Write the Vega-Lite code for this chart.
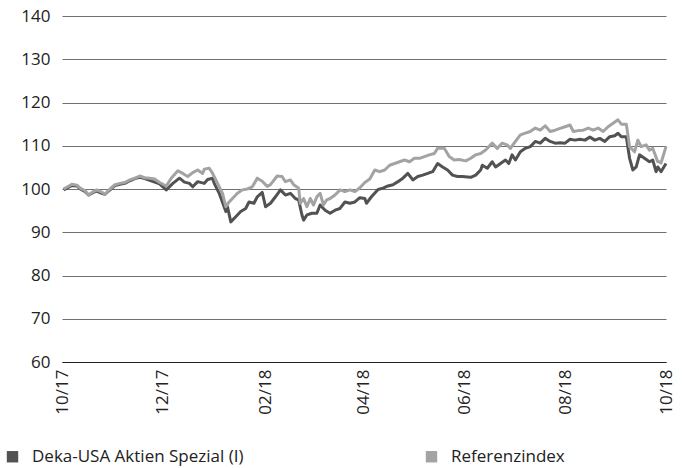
{
  "$schema": "https://vega.github.io/schema/vega-lite/v6.json",
  "width": 604,
  "height": 346,
  "autosize": {"type": "none"},
  "padding": {"left": 62, "top": 16, "right": 18, "bottom": 106},
  "background": "white",
  "config": {
    "view": {"stroke": null},
    "font": "Open Sans"
  },
  "datasets": {
    "fund": [
      {"date": "2017-10-02", "value": 99.8},
      {"date": "2017-10-07", "value": 100.8},
      {"date": "2017-10-10", "value": 100.7},
      {"date": "2017-10-12", "value": 100.0},
      {"date": "2017-10-15", "value": 99.4},
      {"date": "2017-10-17", "value": 98.6},
      {"date": "2017-10-20", "value": 99.2},
      {"date": "2017-10-22", "value": 99.5},
      {"date": "2017-10-25", "value": 99.0},
      {"date": "2017-10-27", "value": 98.8},
      {"date": "2017-10-30", "value": 99.8},
      {"date": "2017-11-02", "value": 100.8},
      {"date": "2017-11-05", "value": 101.1},
      {"date": "2017-11-08", "value": 101.3},
      {"date": "2017-11-11", "value": 101.9},
      {"date": "2017-11-14", "value": 102.4},
      {"date": "2017-11-17", "value": 102.7},
      {"date": "2017-11-20", "value": 102.4},
      {"date": "2017-11-23", "value": 102.0},
      {"date": "2017-11-26", "value": 101.6},
      {"date": "2017-11-29", "value": 101.2},
      {"date": "2017-12-03", "value": 99.8},
      {"date": "2017-12-07", "value": 101.3},
      {"date": "2017-12-11", "value": 102.5},
      {"date": "2017-12-14", "value": 101.6},
      {"date": "2017-12-17", "value": 101.3},
      {"date": "2017-12-19", "value": 100.5},
      {"date": "2017-12-22", "value": 101.7},
      {"date": "2017-12-26", "value": 101.3},
      {"date": "2017-12-28", "value": 102.2},
      {"date": "2017-12-31", "value": 102.5},
      {"date": "2018-01-01", "value": 101.3},
      {"date": "2018-01-04", "value": 99.0},
      {"date": "2018-01-08", "value": 94.8},
      {"date": "2018-01-09", "value": 95.9},
      {"date": "2018-01-11", "value": 92.4},
      {"date": "2018-01-14", "value": 93.6},
      {"date": "2018-01-17", "value": 94.8},
      {"date": "2018-01-20", "value": 95.5},
      {"date": "2018-01-22", "value": 97.0},
      {"date": "2018-01-25", "value": 96.7},
      {"date": "2018-01-27", "value": 98.2},
      {"date": "2018-01-30", "value": 99.2},
      {"date": "2018-02-01", "value": 95.9},
      {"date": "2018-02-04", "value": 96.7},
      {"date": "2018-02-07", "value": 98.2},
      {"date": "2018-02-10", "value": 99.8},
      {"date": "2018-02-13", "value": 98.6},
      {"date": "2018-02-16", "value": 99.0},
      {"date": "2018-02-19", "value": 97.8},
      {"date": "2018-02-21", "value": 97.5},
      {"date": "2018-02-23", "value": 94.0},
      {"date": "2018-02-24", "value": 92.8},
      {"date": "2018-02-26", "value": 94.0},
      {"date": "2018-03-01", "value": 94.4},
      {"date": "2018-03-04", "value": 94.4},
      {"date": "2018-03-06", "value": 96.3},
      {"date": "2018-03-09", "value": 95.1},
      {"date": "2018-03-12", "value": 94.4},
      {"date": "2018-03-15", "value": 95.1},
      {"date": "2018-03-18", "value": 95.5},
      {"date": "2018-03-21", "value": 97.0},
      {"date": "2018-03-24", "value": 96.7},
      {"date": "2018-03-27", "value": 97.0},
      {"date": "2018-03-30", "value": 98.0},
      {"date": "2018-04-02", "value": 97.8},
      {"date": "2018-04-03", "value": 96.7},
      {"date": "2018-04-06", "value": 98.2},
      {"date": "2018-04-10", "value": 99.9},
      {"date": "2018-04-13", "value": 100.2},
      {"date": "2018-04-16", "value": 100.7},
      {"date": "2018-04-19", "value": 101.0},
      {"date": "2018-04-22", "value": 101.7},
      {"date": "2018-04-25", "value": 102.5},
      {"date": "2018-04-28", "value": 103.6},
      {"date": "2018-05-01", "value": 102.1},
      {"date": "2018-05-04", "value": 102.9},
      {"date": "2018-05-07", "value": 103.2},
      {"date": "2018-05-10", "value": 103.6},
      {"date": "2018-05-13", "value": 104.0},
      {"date": "2018-05-16", "value": 105.9},
      {"date": "2018-05-19", "value": 105.1},
      {"date": "2018-05-22", "value": 104.4},
      {"date": "2018-05-25", "value": 103.2},
      {"date": "2018-05-28", "value": 102.9},
      {"date": "2018-05-31", "value": 102.9},
      {"date": "2018-06-03", "value": 102.8},
      {"date": "2018-06-05", "value": 102.7},
      {"date": "2018-06-08", "value": 103.2},
      {"date": "2018-06-11", "value": 104.4},
      {"date": "2018-06-12", "value": 105.5},
      {"date": "2018-06-15", "value": 104.8},
      {"date": "2018-06-18", "value": 106.3},
      {"date": "2018-06-20", "value": 105.1},
      {"date": "2018-06-23", "value": 105.9},
      {"date": "2018-06-26", "value": 106.7},
      {"date": "2018-06-28", "value": 105.9},
      {"date": "2018-06-30", "value": 107.9},
      {"date": "2018-07-02", "value": 106.7},
      {"date": "2018-07-05", "value": 108.6},
      {"date": "2018-07-08", "value": 109.4},
      {"date": "2018-07-11", "value": 109.8},
      {"date": "2018-07-14", "value": 111.0},
      {"date": "2018-07-17", "value": 110.6},
      {"date": "2018-07-20", "value": 111.7},
      {"date": "2018-07-23", "value": 111.0},
      {"date": "2018-07-26", "value": 110.6},
      {"date": "2018-07-29", "value": 110.7},
      {"date": "2018-08-01", "value": 110.6},
      {"date": "2018-08-04", "value": 111.5},
      {"date": "2018-08-07", "value": 111.3},
      {"date": "2018-08-10", "value": 111.5},
      {"date": "2018-08-13", "value": 111.3},
      {"date": "2018-08-16", "value": 112.0},
      {"date": "2018-08-19", "value": 111.3},
      {"date": "2018-08-22", "value": 111.7},
      {"date": "2018-08-25", "value": 111.0},
      {"date": "2018-08-28", "value": 112.1},
      {"date": "2018-08-31", "value": 112.3},
      {"date": "2018-09-02", "value": 112.9},
      {"date": "2018-09-04", "value": 112.1},
      {"date": "2018-09-07", "value": 112.1},
      {"date": "2018-09-09", "value": 107.1},
      {"date": "2018-09-11", "value": 104.4},
      {"date": "2018-09-13", "value": 105.1},
      {"date": "2018-09-15", "value": 107.9},
      {"date": "2018-09-18", "value": 107.1},
      {"date": "2018-09-21", "value": 106.3},
      {"date": "2018-09-23", "value": 106.7},
      {"date": "2018-09-25", "value": 104.0},
      {"date": "2018-09-26", "value": 105.1},
      {"date": "2018-09-28", "value": 104.0},
      {"date": "2018-10-01", "value": 105.9}
    ],
    "index": [
      {"date": "2017-10-02", "value": 100.0},
      {"date": "2017-10-07", "value": 101.1},
      {"date": "2017-10-10", "value": 100.9},
      {"date": "2017-10-12", "value": 100.2},
      {"date": "2017-10-15", "value": 99.6},
      {"date": "2017-10-17", "value": 98.6},
      {"date": "2017-10-20", "value": 99.4},
      {"date": "2017-10-22", "value": 99.8},
      {"date": "2017-10-25", "value": 99.3},
      {"date": "2017-10-27", "value": 98.8},
      {"date": "2017-10-30", "value": 100.0},
      {"date": "2017-11-02", "value": 101.0},
      {"date": "2017-11-05", "value": 101.3},
      {"date": "2017-11-08", "value": 101.5},
      {"date": "2017-11-11", "value": 102.1},
      {"date": "2017-11-14", "value": 102.5},
      {"date": "2017-11-17", "value": 103.0},
      {"date": "2017-11-20", "value": 102.6},
      {"date": "2017-11-23", "value": 102.5},
      {"date": "2017-11-26", "value": 102.3},
      {"date": "2017-11-29", "value": 101.5},
      {"date": "2017-12-03", "value": 100.7},
      {"date": "2017-12-06", "value": 102.5},
      {"date": "2017-12-10", "value": 104.2},
      {"date": "2017-12-13", "value": 103.6},
      {"date": "2017-12-16", "value": 102.9},
      {"date": "2017-12-19", "value": 103.8},
      {"date": "2017-12-22", "value": 104.4},
      {"date": "2017-12-25", "value": 103.6},
      {"date": "2017-12-26", "value": 104.6},
      {"date": "2017-12-29", "value": 104.8},
      {"date": "2017-12-31", "value": 103.6},
      {"date": "2018-01-03", "value": 101.3},
      {"date": "2018-01-06", "value": 99.0},
      {"date": "2018-01-08", "value": 95.9},
      {"date": "2018-01-10", "value": 97.0},
      {"date": "2018-01-12", "value": 97.8},
      {"date": "2018-01-15", "value": 99.0},
      {"date": "2018-01-18", "value": 99.8},
      {"date": "2018-01-21", "value": 100.0},
      {"date": "2018-01-24", "value": 100.5},
      {"date": "2018-01-27", "value": 102.5},
      {"date": "2018-01-30", "value": 101.8},
      {"date": "2018-02-02", "value": 100.6},
      {"date": "2018-02-04", "value": 101.0},
      {"date": "2018-02-08", "value": 103.0},
      {"date": "2018-02-11", "value": 102.9},
      {"date": "2018-02-13", "value": 101.7},
      {"date": "2018-02-16", "value": 102.1},
      {"date": "2018-02-18", "value": 101.0},
      {"date": "2018-02-21", "value": 100.2},
      {"date": "2018-02-22", "value": 96.7},
      {"date": "2018-02-24", "value": 97.8},
      {"date": "2018-02-26", "value": 95.9},
      {"date": "2018-02-28", "value": 97.8},
      {"date": "2018-03-02", "value": 96.3},
      {"date": "2018-03-04", "value": 98.2},
      {"date": "2018-03-06", "value": 99.0},
      {"date": "2018-03-08", "value": 96.3},
      {"date": "2018-03-10", "value": 97.5},
      {"date": "2018-03-12", "value": 97.8},
      {"date": "2018-03-15", "value": 98.6},
      {"date": "2018-03-18", "value": 99.8},
      {"date": "2018-03-21", "value": 99.4},
      {"date": "2018-03-24", "value": 99.8},
      {"date": "2018-03-27", "value": 99.4},
      {"date": "2018-03-30", "value": 100.3},
      {"date": "2018-04-02", "value": 101.5},
      {"date": "2018-04-05", "value": 102.3},
      {"date": "2018-04-08", "value": 104.4},
      {"date": "2018-04-11", "value": 104.0},
      {"date": "2018-04-14", "value": 104.4},
      {"date": "2018-04-17", "value": 105.5},
      {"date": "2018-04-20", "value": 105.9},
      {"date": "2018-04-23", "value": 106.3},
      {"date": "2018-04-26", "value": 106.7},
      {"date": "2018-04-29", "value": 106.3},
      {"date": "2018-05-02", "value": 107.1},
      {"date": "2018-05-05", "value": 107.1},
      {"date": "2018-05-08", "value": 107.5},
      {"date": "2018-05-11", "value": 107.9},
      {"date": "2018-05-14", "value": 108.2},
      {"date": "2018-05-16", "value": 109.4},
      {"date": "2018-05-20", "value": 109.4},
      {"date": "2018-05-23", "value": 107.5},
      {"date": "2018-05-26", "value": 106.7},
      {"date": "2018-05-29", "value": 106.8},
      {"date": "2018-06-02", "value": 106.5},
      {"date": "2018-06-05", "value": 107.1},
      {"date": "2018-06-08", "value": 107.9},
      {"date": "2018-06-11", "value": 108.2},
      {"date": "2018-06-14", "value": 109.0},
      {"date": "2018-06-17", "value": 110.2},
      {"date": "2018-06-18", "value": 110.6},
      {"date": "2018-06-21", "value": 109.4},
      {"date": "2018-06-24", "value": 110.6},
      {"date": "2018-06-27", "value": 110.2},
      {"date": "2018-06-29", "value": 109.4},
      {"date": "2018-07-02", "value": 111.0},
      {"date": "2018-07-05", "value": 112.5},
      {"date": "2018-07-08", "value": 112.9},
      {"date": "2018-07-11", "value": 113.3},
      {"date": "2018-07-14", "value": 114.1},
      {"date": "2018-07-17", "value": 113.6},
      {"date": "2018-07-20", "value": 114.6},
      {"date": "2018-07-23", "value": 113.3},
      {"date": "2018-07-26", "value": 113.6},
      {"date": "2018-07-29", "value": 114.0},
      {"date": "2018-08-01", "value": 114.4},
      {"date": "2018-08-04", "value": 114.8},
      {"date": "2018-08-06", "value": 113.3},
      {"date": "2018-08-09", "value": 113.5},
      {"date": "2018-08-12", "value": 113.6},
      {"date": "2018-08-15", "value": 114.1},
      {"date": "2018-08-18", "value": 113.6},
      {"date": "2018-08-21", "value": 114.1},
      {"date": "2018-08-24", "value": 113.3},
      {"date": "2018-08-27", "value": 114.4},
      {"date": "2018-08-30", "value": 115.2},
      {"date": "2018-09-02", "value": 116.0},
      {"date": "2018-09-04", "value": 115.0},
      {"date": "2018-09-07", "value": 115.0},
      {"date": "2018-09-09", "value": 109.8},
      {"date": "2018-09-12", "value": 108.6},
      {"date": "2018-09-14", "value": 111.3},
      {"date": "2018-09-16", "value": 109.8},
      {"date": "2018-09-19", "value": 110.2},
      {"date": "2018-09-21", "value": 109.0},
      {"date": "2018-09-23", "value": 109.4},
      {"date": "2018-09-26", "value": 106.3},
      {"date": "2018-09-27", "value": 106.3},
      {"date": "2018-09-28", "value": 106.0},
      {"date": "2018-10-01", "value": 109.8}
    ]
  },
  "encoding": {
    "x": {
      "field": "date",
      "type": "temporal",
      "scale": {
        "type": "utc",
        "domain": [
          {"year": 2017, "month": 10, "date": 1, "utc": true},
          {"year": 2018, "month": 10, "date": 1, "utc": true}
        ]
      },
      "axis": {
        "title": null,
        "format": "%m/%y",
        "values": [
          {"year": 2017, "month": 10, "date": 1, "utc": true},
          {"year": 2017, "month": 12, "date": 1, "utc": true},
          {"year": 2018, "month": 2, "date": 1, "utc": true},
          {"year": 2018, "month": 4, "date": 1, "utc": true},
          {"year": 2018, "month": 6, "date": 1, "utc": true},
          {"year": 2018, "month": 8, "date": 1, "utc": true},
          {"year": 2018, "month": 10, "date": 1, "utc": true}
        ],
        "labelAngle": -90,
        "labelFontSize": 17,
        "labelColor": "#222222",
        "labelPadding": 7,
        "ticks": false,
        "grid": false,
        "domain": true,
        "domainColor": "#222222",
        "domainWidth": 1,
        "labelOverlap": false,
        "labelFlush": false
      }
    },
    "y": {
      "field": "value",
      "type": "quantitative",
      "scale": {"domain": [60, 140], "nice": false, "zero": false},
      "axis": {
        "title": null,
        "values": [60, 70, 80, 90, 100, 110, 120, 130, 140],
        "labelFontSize": 17,
        "labelColor": "#222222",
        "labelPadding": 12,
        "ticks": false,
        "domain": false,
        "grid": true,
        "gridColor": "#707070",
        "gridWidth": 1
      }
    }
  },
  "layer": [
    {
      "data": {"name": "fund"},
      "mark": {"type": "line", "strokeWidth": 3, "strokeJoin": "round"},
      "encoding": {
        "color": {
          "datum": "Deka-USA Aktien Spezial (I)",
          "scale": {
            "domain": ["Deka-USA Aktien Spezial (I)", "Referenzindex"],
            "range": ["#525252", "#a3a3a3"]
          },
          "legend": {
            "title": null,
            "orient": "none",
            "legendX": -58,
            "legendY": 432,
            "direction": "horizontal",
            "symbolType": "square",
            "symbolSize": 130,
            "symbolStrokeWidth": 0,
            "labelFontSize": 17,
            "labelColor": "#222222",
            "labelOffset": 11,
            "columnPadding": 179,
            "labelLimit": 400,
            "encode": {
              "symbols": {
                "update": {
                  "fill": {"scale": "color", "field": "value"},
                  "fillOpacity": {"value": 1},
                  "strokeWidth": {"value": 0}
                }
              }
            }
          }
        }
      }
    },
    {
      "data": {"name": "index"},
      "mark": {"type": "line", "strokeWidth": 3, "strokeJoin": "round"},
      "encoding": {
        "color": {"datum": "Referenzindex"}
      }
    }
  ]
}
